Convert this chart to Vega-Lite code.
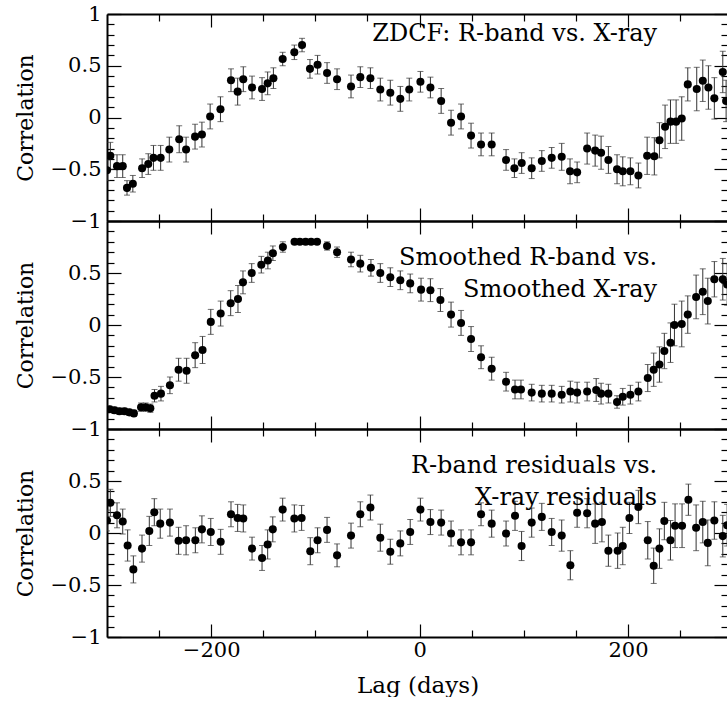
{
  "$schema": "https://vega.github.io/schema/vega-lite/v6.json",
  "padding": {"left": 14, "top": 3, "right": 0, "bottom": 0},
  "spacing": 0,
  "bounds": "flush",
  "config": {
    "view": {"stroke": null},
    "font": "DejaVu Serif",
    "axis": {
      "grid": false,
      "domainColor": "#000",
      "domainWidth": 2,
      "tickColor": "#000",
      "tickWidth": 1.2,
      "labelColor": "#000",
      "labelFont": "DejaVu Serif",
      "labelFontSize": 21,
      "labelOverlap": false,
      "labelFlush": false,
      "titleFont": "DejaVu Serif",
      "titleFontSize": 22,
      "titleFontWeight": "normal",
      "titleColor": "#000"
    },
    "text": {"font": "DejaVu Serif", "fontSize": 24, "color": "#000", "align": "right", "baseline": "middle", "lineHeight": 32}
  },
  "datasets": {
    "zdcf": [
      {"lag": -300, "r": -0.51, "e": 0.10},
      {"lag": -296.8, "r": -0.37, "e": 0.13},
      {"lag": -290.4, "r": -0.47, "e": 0.11},
      {"lag": -284.9, "r": -0.47, "e": 0.11},
      {"lag": -280.8, "r": -0.68, "e": 0.07},
      {"lag": -275.2, "r": -0.64, "e": 0.08},
      {"lag": -266.3, "r": -0.49, "e": 0.09},
      {"lag": -260.4, "r": -0.45, "e": 0.10},
      {"lag": -255.4, "r": -0.39, "e": 0.12},
      {"lag": -248.5, "r": -0.39, "e": 0.12},
      {"lag": -240.2, "r": -0.31, "e": 0.12},
      {"lag": -230.7, "r": -0.21, "e": 0.13},
      {"lag": -224.1, "r": -0.31, "e": 0.12},
      {"lag": -215.5, "r": -0.185, "e": 0.12},
      {"lag": -208.9, "r": -0.165, "e": 0.12},
      {"lag": -201, "r": 0.01, "e": 0.12},
      {"lag": -191.1, "r": 0.08, "e": 0.12},
      {"lag": -181, "r": 0.36, "e": 0.11},
      {"lag": -174.6, "r": 0.25, "e": 0.13},
      {"lag": -169.2, "r": 0.37, "e": 0.12},
      {"lag": -160.8, "r": 0.29, "e": 0.11},
      {"lag": -151.2, "r": 0.275, "e": 0.11},
      {"lag": -145.8, "r": 0.33, "e": 0.11},
      {"lag": -140.3, "r": 0.38, "e": 0.10},
      {"lag": -131.4, "r": 0.565, "e": 0.065},
      {"lag": -120.2, "r": 0.63, "e": 0.07},
      {"lag": -112.8, "r": 0.70, "e": 0.065},
      {"lag": -105.2, "r": 0.47, "e": 0.09},
      {"lag": -97.9, "r": 0.51, "e": 0.09},
      {"lag": -88.8, "r": 0.43, "e": 0.10},
      {"lag": -79.2, "r": 0.37, "e": 0.10},
      {"lag": -65.8, "r": 0.30, "e": 0.11},
      {"lag": -56.9, "r": 0.39, "e": 0.10},
      {"lag": -47.2, "r": 0.38, "e": 0.10},
      {"lag": -37.7, "r": 0.27, "e": 0.11},
      {"lag": -28.1, "r": 0.24, "e": 0.12},
      {"lag": -18.5, "r": 0.18, "e": 0.12},
      {"lag": -9.9, "r": 0.27, "e": 0.11},
      {"lag": 0.8, "r": 0.345, "e": 0.10},
      {"lag": 10.4, "r": 0.29, "e": 0.10},
      {"lag": 20.7, "r": 0.16, "e": 0.12},
      {"lag": 30.2, "r": -0.05, "e": 0.12},
      {"lag": 39.8, "r": 0.01, "e": 0.12},
      {"lag": 49.4, "r": -0.175, "e": 0.12},
      {"lag": 59, "r": -0.26, "e": 0.11},
      {"lag": 69.2, "r": -0.26, "e": 0.11},
      {"lag": 83, "r": -0.41, "e": 0.10},
      {"lag": 91, "r": -0.49, "e": 0.09},
      {"lag": 98, "r": -0.44, "e": 0.10},
      {"lag": 107.6, "r": -0.49, "e": 0.10},
      {"lag": 117.3, "r": -0.42, "e": 0.10},
      {"lag": 126.8, "r": -0.39, "e": 0.10},
      {"lag": 136.4, "r": -0.38, "e": 0.13},
      {"lag": 144.4, "r": -0.52, "e": 0.12},
      {"lag": 151.2, "r": -0.53, "e": 0.10},
      {"lag": 160.8, "r": -0.30, "e": 0.15},
      {"lag": 168.5, "r": -0.32, "e": 0.15},
      {"lag": 174.2, "r": -0.34, "e": 0.16},
      {"lag": 181.2, "r": -0.41, "e": 0.13},
      {"lag": 189.5, "r": -0.50, "e": 0.14},
      {"lag": 195, "r": -0.52, "e": 0.14},
      {"lag": 202.3, "r": -0.52, "e": 0.13},
      {"lag": 210, "r": -0.56, "e": 0.12},
      {"lag": 218.4, "r": -0.37, "e": 0.18},
      {"lag": 225.3, "r": -0.375, "e": 0.18},
      {"lag": 230.2, "r": -0.22, "e": 0.17},
      {"lag": 235.6, "r": -0.09, "e": 0.21},
      {"lag": 240.8, "r": -0.04, "e": 0.21},
      {"lag": 246.2, "r": -0.04, "e": 0.21},
      {"lag": 251.6, "r": -0.01, "e": 0.21},
      {"lag": 257.4, "r": 0.32, "e": 0.16},
      {"lag": 266, "r": 0.275, "e": 0.21},
      {"lag": 271.8, "r": 0.355, "e": 0.20},
      {"lag": 277.2, "r": 0.29, "e": 0.21},
      {"lag": 282.9, "r": 0.185, "e": 0.20},
      {"lag": 291, "r": 0.44, "e": 0.20},
      {"lag": 294.2, "r": 0.16, "e": 0.20}
    ],
    "smooth": [
      {"lag": -297.6, "r": -0.81, "e": 0.03},
      {"lag": -292.9, "r": -0.82, "e": 0.03},
      {"lag": -288.1, "r": -0.83, "e": 0.03},
      {"lag": -283.2, "r": -0.83, "e": 0.03},
      {"lag": -278.6, "r": -0.84, "e": 0.03},
      {"lag": -274.2, "r": -0.85, "e": 0.03},
      {"lag": -267.3, "r": -0.79, "e": 0.04},
      {"lag": -262.9, "r": -0.79, "e": 0.04},
      {"lag": -258.4, "r": -0.80, "e": 0.04},
      {"lag": -254.4, "r": -0.68, "e": 0.06},
      {"lag": -248.2, "r": -0.66, "e": 0.07},
      {"lag": -239.6, "r": -0.58, "e": 0.08},
      {"lag": -231.3, "r": -0.43, "e": 0.11},
      {"lag": -223.6, "r": -0.44, "e": 0.12},
      {"lag": -215.4, "r": -0.29, "e": 0.12},
      {"lag": -208.3, "r": -0.24, "e": 0.13},
      {"lag": -200.4, "r": 0.03, "e": 0.12},
      {"lag": -190.9, "r": 0.11, "e": 0.12},
      {"lag": -181.3, "r": 0.21, "e": 0.12},
      {"lag": -174.3, "r": 0.25, "e": 0.13},
      {"lag": -169.5, "r": 0.41, "e": 0.11},
      {"lag": -161.1, "r": 0.50, "e": 0.09},
      {"lag": -151.9, "r": 0.58, "e": 0.08},
      {"lag": -145.6, "r": 0.62, "e": 0.08},
      {"lag": -140.8, "r": 0.69, "e": 0.07},
      {"lag": -131.2, "r": 0.75, "e": 0.05},
      {"lag": -120, "r": 0.80, "e": 0.02},
      {"lag": -114.9, "r": 0.80, "e": 0.02},
      {"lag": -109.4, "r": 0.80, "e": 0.02},
      {"lag": -104.1, "r": 0.80, "e": 0.02},
      {"lag": -98.4, "r": 0.80, "e": 0.02},
      {"lag": -88.8, "r": 0.76, "e": 0.04},
      {"lag": -79.2, "r": 0.70, "e": 0.05},
      {"lag": -65.8, "r": 0.63, "e": 0.07},
      {"lag": -56.9, "r": 0.59, "e": 0.08},
      {"lag": -46.7, "r": 0.55, "e": 0.08},
      {"lag": -37.7, "r": 0.50, "e": 0.09},
      {"lag": -28.1, "r": 0.46, "e": 0.09},
      {"lag": -18.5, "r": 0.43, "e": 0.09},
      {"lag": -9, "r": 0.40, "e": 0.09},
      {"lag": 1.4, "r": 0.34, "e": 0.11},
      {"lag": 10.4, "r": 0.335, "e": 0.11},
      {"lag": 20, "r": 0.24, "e": 0.11},
      {"lag": 30.2, "r": 0.10, "e": 0.12},
      {"lag": 39.8, "r": 0.02, "e": 0.12},
      {"lag": 49.4, "r": -0.135, "e": 0.12},
      {"lag": 59, "r": -0.31, "e": 0.11},
      {"lag": 69.2, "r": -0.42, "e": 0.11},
      {"lag": 83, "r": -0.545, "e": 0.09},
      {"lag": 91.6, "r": -0.62, "e": 0.09},
      {"lag": 97.3, "r": -0.62, "e": 0.09},
      {"lag": 107.6, "r": -0.65, "e": 0.08},
      {"lag": 117.3, "r": -0.66, "e": 0.08},
      {"lag": 126.8, "r": -0.66, "e": 0.08},
      {"lag": 136.4, "r": -0.67, "e": 0.08},
      {"lag": 144.7, "r": -0.64, "e": 0.10},
      {"lag": 151.2, "r": -0.65, "e": 0.10},
      {"lag": 160.8, "r": -0.64, "e": 0.09},
      {"lag": 169.5, "r": -0.625, "e": 0.11},
      {"lag": 174.2, "r": -0.66, "e": 0.10},
      {"lag": 181.2, "r": -0.66, "e": 0.09},
      {"lag": 189.5, "r": -0.74, "e": 0.06},
      {"lag": 195, "r": -0.69, "e": 0.08},
      {"lag": 202.3, "r": -0.67, "e": 0.09},
      {"lag": 210, "r": -0.64, "e": 0.09},
      {"lag": 219, "r": -0.51, "e": 0.13},
      {"lag": 224.7, "r": -0.43, "e": 0.16},
      {"lag": 230.2, "r": -0.38, "e": 0.17},
      {"lag": 234.9, "r": -0.25, "e": 0.17},
      {"lag": 240.8, "r": -0.17, "e": 0.19},
      {"lag": 244.6, "r": 0.00, "e": 0.20},
      {"lag": 251.6, "r": 0.01, "e": 0.22},
      {"lag": 257.4, "r": 0.10, "e": 0.18},
      {"lag": 265.4, "r": 0.27, "e": 0.21},
      {"lag": 271.8, "r": 0.32, "e": 0.22},
      {"lag": 276.6, "r": 0.23, "e": 0.22},
      {"lag": 282.9, "r": 0.44, "e": 0.17},
      {"lag": 291, "r": 0.44, "e": 0.20},
      {"lag": 295.2, "r": 0.39, "e": 0.20}
    ],
    "resid": [
      {"lag": -300, "r": 0.12, "e": 0.10},
      {"lag": -296.8, "r": 0.29, "e": 0.13},
      {"lag": -290.4, "r": 0.17, "e": 0.12},
      {"lag": -284.9, "r": 0.11, "e": 0.12},
      {"lag": -280.2, "r": -0.12, "e": 0.15},
      {"lag": -274.7, "r": -0.35, "e": 0.13},
      {"lag": -266.4, "r": -0.15, "e": 0.13},
      {"lag": -259.4, "r": 0.02, "e": 0.14},
      {"lag": -254.6, "r": 0.20, "e": 0.13},
      {"lag": -248.9, "r": 0.09, "e": 0.14},
      {"lag": -239.6, "r": 0.10, "e": 0.13},
      {"lag": -231.3, "r": -0.075, "e": 0.13},
      {"lag": -224.1, "r": -0.07, "e": 0.14},
      {"lag": -215.2, "r": -0.07, "e": 0.12},
      {"lag": -208.9, "r": 0.035, "e": 0.13},
      {"lag": -200.4, "r": 0.01, "e": 0.13},
      {"lag": -190.9, "r": -0.085, "e": 0.12},
      {"lag": -181, "r": 0.18, "e": 0.12},
      {"lag": -174.6, "r": 0.145, "e": 0.13},
      {"lag": -169.2, "r": 0.14, "e": 0.13},
      {"lag": -160.8, "r": -0.15, "e": 0.11},
      {"lag": -151.2, "r": -0.24, "e": 0.12},
      {"lag": -145.8, "r": -0.11, "e": 0.14},
      {"lag": -140.9, "r": 0.035, "e": 0.12},
      {"lag": -131.4, "r": 0.225, "e": 0.11},
      {"lag": -120.2, "r": 0.14, "e": 0.13},
      {"lag": -113.2, "r": 0.145, "e": 0.12},
      {"lag": -104.9, "r": -0.175, "e": 0.13},
      {"lag": -97.9, "r": -0.07, "e": 0.12},
      {"lag": -88.8, "r": 0.03, "e": 0.12},
      {"lag": -79.2, "r": -0.215, "e": 0.11},
      {"lag": -65.8, "r": -0.025, "e": 0.12},
      {"lag": -56.9, "r": 0.18, "e": 0.12},
      {"lag": -47.2, "r": 0.245, "e": 0.12},
      {"lag": -37.7, "r": -0.045, "e": 0.13},
      {"lag": -28.1, "r": -0.18, "e": 0.12},
      {"lag": -18.5, "r": -0.10, "e": 0.12},
      {"lag": -9, "r": 0.01, "e": 0.12},
      {"lag": 0.8, "r": 0.225, "e": 0.11},
      {"lag": 10.4, "r": 0.105, "e": 0.12},
      {"lag": 20.7, "r": 0.10, "e": 0.12},
      {"lag": 30.2, "r": -0.005, "e": 0.12},
      {"lag": 39.8, "r": -0.09, "e": 0.12},
      {"lag": 49.4, "r": -0.09, "e": 0.12},
      {"lag": 59, "r": 0.18, "e": 0.11},
      {"lag": 69.2, "r": 0.09, "e": 0.13},
      {"lag": 83, "r": -0.005, "e": 0.12},
      {"lag": 91.6, "r": 0.165, "e": 0.14},
      {"lag": 97.9, "r": -0.125, "e": 0.14},
      {"lag": 107.6, "r": 0.10, "e": 0.14},
      {"lag": 117.3, "r": 0.155, "e": 0.13},
      {"lag": 126.8, "r": 0.01, "e": 0.13},
      {"lag": 136.4, "r": -0.025, "e": 0.15},
      {"lag": 144.7, "r": -0.31, "e": 0.14},
      {"lag": 151.2, "r": 0.195, "e": 0.14},
      {"lag": 160.8, "r": 0.19, "e": 0.14},
      {"lag": 168.5, "r": 0.09, "e": 0.19},
      {"lag": 175, "r": 0.105, "e": 0.19},
      {"lag": 181.2, "r": -0.17, "e": 0.15},
      {"lag": 190.1, "r": -0.17, "e": 0.17},
      {"lag": 195, "r": -0.125, "e": 0.18},
      {"lag": 201.4, "r": 0.145, "e": 0.15},
      {"lag": 210, "r": 0.25, "e": 0.16},
      {"lag": 219, "r": -0.07, "e": 0.18},
      {"lag": 224.7, "r": -0.315, "e": 0.17},
      {"lag": 230.2, "r": -0.15, "e": 0.19},
      {"lag": 234.9, "r": 0.115, "e": 0.18},
      {"lag": 240.8, "r": -0.07, "e": 0.19},
      {"lag": 245.2, "r": 0.07, "e": 0.21},
      {"lag": 251.9, "r": 0.07, "e": 0.21},
      {"lag": 258, "r": 0.32, "e": 0.15},
      {"lag": 265.4, "r": 0.05, "e": 0.22},
      {"lag": 271.8, "r": 0.105, "e": 0.20},
      {"lag": 276.6, "r": -0.095, "e": 0.22},
      {"lag": 282.9, "r": 0.12, "e": 0.18},
      {"lag": 291, "r": -0.03, "e": 0.20},
      {"lag": 295.2, "r": 0.075, "e": 0.20}
    ]
  },
  "vconcat": [
    {
      "width": 621, "height": 207,
      "data": {"name": "zdcf"},
      "layer": [
        {"mark": {"type": "errorbar", "ticks": {"size": 6, "thickness": 1, "color": "#333"}, "rule": {"strokeWidth": 1, "color": "#333"}, "clip": true},
         "encoding": {"x": {"field": "lag", "type": "quantitative", "scale": {"domain": [-300, 296], "nice": false, "zero": false}, "axis": null},
                      "y": {"field": "r", "type": "quantitative", "scale": {"domain": [-1, 1], "nice": false, "zero": false}, "axis": null},
                      "yError": {"field": "e"}}},
        {"mark": {"type": "point", "filled": true, "size": 65, "color": "#000", "opacity": 1, "clip": true},
         "encoding": {"x": {"field": "lag", "type": "quantitative", "scale": {"domain": [-300, 296], "nice": false, "zero": false}, "axis": {"orient": "bottom", "values": [-200, 0, 200], "tickSize": -13, "labels": false, "title": null, "domain": true}},
                      "y": {"field": "r", "type": "quantitative", "scale": {"domain": [-1, 1], "nice": false, "zero": false}, "axis": {"orient": "left", "values": [-1, -0.5, 0, 0.5, 1], "format": "~g", "tickSize": -14, "labelPadding": 20, "title": "Correlation", "titlePadding": 13, "domain": true}}}},
        {"mark": {"type": "point", "opacity": 0},
         "encoding": {"x": {"field": "lag", "type": "quantitative", "axis": {"orient": "top", "values": [-200, 0, 200], "tickSize": -13, "labels": false, "title": null, "domain": true}},
                      "y": {"field": "r", "type": "quantitative", "axis": {"orient": "right", "values": [-1, -0.5, 0, 0.5, 1], "tickSize": -14, "labels": false, "title": null, "domain": false}}}},
        {"mark": {"type": "point", "opacity": 0},
         "encoding": {"x": {"field": "lag", "type": "quantitative", "axis": {"orient": "bottom", "values": [-250, -150, -100, -50, 50, 100, 150, 250], "tickSize": -7, "labels": false, "title": null, "domain": false}},
                      "y": {"field": "r", "type": "quantitative", "axis": {"orient": "left", "values": [-0.9, -0.8, -0.7, -0.6, -0.4, -0.3, -0.2, -0.1, 0.1, 0.2, 0.3, 0.4, 0.6, 0.7, 0.8, 0.9], "tickSize": -7, "labels": false, "title": null, "domain": false}}}},
        {"mark": {"type": "point", "opacity": 0},
         "encoding": {"x": {"field": "lag", "type": "quantitative", "axis": {"orient": "top", "values": [-250, -150, -100, -50, 50, 100, 150, 250], "tickSize": -7, "labels": false, "title": null, "domain": false}},
                      "y": {"field": "r", "type": "quantitative", "axis": {"orient": "right", "values": [-0.9, -0.8, -0.7, -0.6, -0.4, -0.3, -0.2, -0.1, 0.1, 0.2, 0.3, 0.4, 0.6, 0.7, 0.8, 0.9], "tickSize": -7, "labels": false, "title": null, "domain": false}}}},
        {"data": {"values": [{"label": "ZDCF: R-band vs. X-ray"}]},
         "mark": {"type": "text"},
         "encoding": {"text": {"field": "label"},
                      "x": {"datum": 228, "type": "quantitative", "axis": null},
                      "y": {"datum": 0.807, "type": "quantitative", "axis": null}}}
      ],
      "resolve": {"axis": {"x": "independent", "y": "independent"}}
    },
    {
      "width": 621, "height": 208,
      "data": {"name": "smooth"},
      "layer": [
        {"mark": {"type": "errorbar", "ticks": {"size": 6, "thickness": 1, "color": "#333"}, "rule": {"strokeWidth": 1, "color": "#333"}, "clip": true},
         "encoding": {"x": {"field": "lag", "type": "quantitative", "scale": {"domain": [-300, 296], "nice": false, "zero": false}, "axis": null},
                      "y": {"field": "r", "type": "quantitative", "scale": {"domain": [-1, 1], "nice": false, "zero": false}, "axis": null},
                      "yError": {"field": "e"}}},
        {"mark": {"type": "point", "filled": true, "size": 65, "color": "#000", "opacity": 1, "clip": true},
         "encoding": {"x": {"field": "lag", "type": "quantitative", "scale": {"domain": [-300, 296], "nice": false, "zero": false}, "axis": {"orient": "bottom", "values": [-200, 0, 200], "tickSize": -13, "labels": false, "title": null, "domain": true}},
                      "y": {"field": "r", "type": "quantitative", "scale": {"domain": [-1, 1], "nice": false, "zero": false}, "axis": {"orient": "left", "values": [-1, -0.5, 0, 0.5], "format": "~g", "tickSize": -14, "labelPadding": 20, "title": "Correlation", "titlePadding": 13, "domain": true}}}},
        {"mark": {"type": "point", "opacity": 0},
         "encoding": {"x": {"field": "lag", "type": "quantitative", "axis": {"orient": "top", "values": [-200, 0, 200], "tickSize": -13, "labels": false, "title": null, "domain": true}},
                      "y": {"field": "r", "type": "quantitative", "axis": {"orient": "right", "values": [-1, -0.5, 0, 0.5, 1], "tickSize": -14, "labels": false, "title": null, "domain": false}}}},
        {"mark": {"type": "point", "opacity": 0},
         "encoding": {"x": {"field": "lag", "type": "quantitative", "axis": {"orient": "bottom", "values": [-250, -150, -100, -50, 50, 100, 150, 250], "tickSize": -7, "labels": false, "title": null, "domain": false}},
                      "y": {"field": "r", "type": "quantitative", "axis": {"orient": "left", "values": [-0.9, -0.8, -0.7, -0.6, -0.4, -0.3, -0.2, -0.1, 0.1, 0.2, 0.3, 0.4, 0.6, 0.7, 0.8, 0.9], "tickSize": -7, "labels": false, "title": null, "domain": false}}}},
        {"mark": {"type": "point", "opacity": 0},
         "encoding": {"x": {"field": "lag", "type": "quantitative", "axis": {"orient": "top", "values": [-250, -150, -100, -50, 50, 100, 150, 250], "tickSize": -7, "labels": false, "title": null, "domain": false}},
                      "y": {"field": "r", "type": "quantitative", "axis": {"orient": "right", "values": [-0.9, -0.8, -0.7, -0.6, -0.4, -0.3, -0.2, -0.1, 0.1, 0.2, 0.3, 0.4, 0.6, 0.7, 0.8, 0.9], "tickSize": -7, "labels": false, "title": null, "domain": false}}}},
        {"data": {"values": [{"label": ["Smoothed R-band vs.", "Smoothed X-ray"]}]},
         "mark": {"type": "text"},
         "encoding": {"text": {"field": "label"},
                      "x": {"datum": 228, "type": "quantitative", "axis": null},
                      "y": {"datum": 0.649, "type": "quantitative", "axis": null}}}
      ],
      "resolve": {"axis": {"x": "independent", "y": "independent"}}
    },
    {
      "width": 621, "height": 208,
      "data": {"name": "resid"},
      "layer": [
        {"mark": {"type": "errorbar", "ticks": {"size": 6, "thickness": 1, "color": "#333"}, "rule": {"strokeWidth": 1, "color": "#333"}, "clip": true},
         "encoding": {"x": {"field": "lag", "type": "quantitative", "scale": {"domain": [-300, 296], "nice": false, "zero": false}, "axis": null},
                      "y": {"field": "r", "type": "quantitative", "scale": {"domain": [-1, 1], "nice": false, "zero": false}, "axis": null},
                      "yError": {"field": "e"}}},
        {"mark": {"type": "point", "filled": true, "size": 65, "color": "#000", "opacity": 1, "clip": true},
         "encoding": {"x": {"field": "lag", "type": "quantitative", "scale": {"domain": [-300, 296], "nice": false, "zero": false}, "axis": {"orient": "bottom", "values": [-200, 0, 200], "tickSize": -13, "labels": true, "labelPadding": 15, "title": "Lag (days)", "titleFontSize": 23, "titlePadding": 14, "domain": true}},
                      "y": {"field": "r", "type": "quantitative", "scale": {"domain": [-1, 1], "nice": false, "zero": false}, "axis": {"orient": "left", "values": [-1, -0.5, 0, 0.5], "format": "~g", "tickSize": -14, "labelPadding": 20, "title": "Correlation", "titlePadding": 13, "domain": true}}}},
        {"mark": {"type": "point", "opacity": 0},
         "encoding": {"x": {"field": "lag", "type": "quantitative", "axis": {"orient": "top", "values": [-200, 0, 200], "tickSize": -13, "labels": false, "title": null, "domain": true}},
                      "y": {"field": "r", "type": "quantitative", "axis": {"orient": "right", "values": [-1, -0.5, 0, 0.5, 1], "tickSize": -14, "labels": false, "title": null, "domain": false}}}},
        {"mark": {"type": "point", "opacity": 0},
         "encoding": {"x": {"field": "lag", "type": "quantitative", "axis": {"orient": "bottom", "values": [-250, -150, -100, -50, 50, 100, 150, 250], "tickSize": -7, "labels": false, "title": null, "domain": false}},
                      "y": {"field": "r", "type": "quantitative", "axis": {"orient": "left", "values": [-0.9, -0.8, -0.7, -0.6, -0.4, -0.3, -0.2, -0.1, 0.1, 0.2, 0.3, 0.4, 0.6, 0.7, 0.8, 0.9], "tickSize": -7, "labels": false, "title": null, "domain": false}}}},
        {"mark": {"type": "point", "opacity": 0},
         "encoding": {"x": {"field": "lag", "type": "quantitative", "axis": {"orient": "top", "values": [-250, -150, -100, -50, 50, 100, 150, 250], "tickSize": -7, "labels": false, "title": null, "domain": false}},
                      "y": {"field": "r", "type": "quantitative", "axis": {"orient": "right", "values": [-0.9, -0.8, -0.7, -0.6, -0.4, -0.3, -0.2, -0.1, 0.1, 0.2, 0.3, 0.4, 0.6, 0.7, 0.8, 0.9], "tickSize": -7, "labels": false, "title": null, "domain": false}}}},
        {"data": {"values": [{"label": ["R-band residuals vs.", "X-ray residuals"]}]},
         "mark": {"type": "text"},
         "encoding": {"text": {"field": "label"},
                      "x": {"datum": 228, "type": "quantitative", "axis": null},
                      "y": {"datum": 0.649, "type": "quantitative", "axis": null}}}
      ],
      "resolve": {"axis": {"x": "independent", "y": "independent"}}
    }
  ]
}
